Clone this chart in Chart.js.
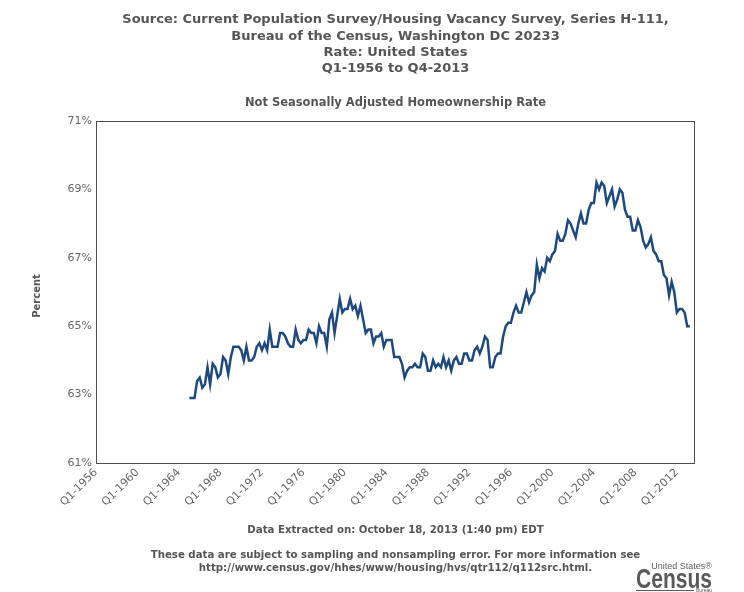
<!DOCTYPE html>
<html><head><meta charset="utf-8">
<script src="https://cdn.jsdelivr.net/npm/chart.js@4/dist/chart.umd.min.js"></script>
<style>html,body{margin:0;padding:0;background:#fff;}canvas{display:block;}</style>
</head><body>
<canvas id="c" width="744" height="592"></canvas>
<script>
const titleLines = [
  'Source: Current Population Survey/Housing Vacancy Survey, Series H-111,',
  'Bureau of the Census, Washington DC 20233',
  'Rate: United States',
  'Q1-1956 to Q4-2013'
];
const subtitleText = 'Not Seasonally Adjusted Homeownership Rate';
const yAxisTitle = 'Percent';
const footerDate = 'Data Extracted on: October 18, 2013 (1:40 pm) EDT';
const footerNote = [
  'These data are subject to sampling and nonsampling error. For more information see',
  'http://www.census.gov/hhes/www/housing/hvs/qtr112/q112src.html.'
];
const yTickSuffix = '%';
const years = [1956,1957,1958,1959,1960,1961,1962,1963,1964,1965,1966,1967,1968,1969,1970,1971,1972,1973,1974,1975,1976,1977,1978,1979,1980,1981,1982,1983,1984,1985,1986,1987,1988,1989,1990,1991,1992,1993,1994,1995,1996,1997,1998,1999,2000,2001,2002,2003,2004,2005,2006,2007,2008,2009,2010,2011,2012,2013];
const quarters = ['Q1','Q2','Q3','Q4'];
const categories = [];
years.forEach(y => quarters.forEach(q => categories.push(q + '-' + y)));
const labelledTicks = ['Q1-1956','Q1-1960','Q1-1964','Q1-1968','Q1-1972','Q1-1976','Q1-1980','Q1-1984','Q1-1988','Q1-1992','Q1-1996','Q1-2000','Q1-2004','Q1-2008','Q1-2012'];

// quarterly values, Q1..Q4 per year
const rate1956to1964 = [
  null,null,null,null, null,null,null,null, null,null,null,null,
  null,null,null,null, null,null,null,null, null,null,null,null,
  null,null,null,null, null,null,null,null, null,null,null,null
];
const rate1965to1974 = [
  62.9,62.9,62.9,63.4, 63.5,63.2,63.3,63.8, 63.3,63.9,63.8,63.5,
  63.6,64.1,64.0,63.6, 64.1,64.4,64.4,64.4, 64.3,64.0,64.4,64.0,
  64.0,64.1,64.4,64.5, 64.3,64.5,64.3,64.9, 64.4,64.4,64.4,64.8,
  64.8,64.7,64.5,64.4
];
const rate1975to1984 = [
  64.4,64.9,64.6,64.5, 64.6,64.6,64.9,64.8, 64.8,64.5,65.0,64.8,
  64.8,64.4,65.2,65.4, 64.8,65.3,65.8,65.4, 65.5,65.5,65.8,65.5,
  65.6,65.3,65.6,65.2, 64.8,64.9,64.9,64.5, 64.7,64.7,64.8,64.4,
  64.6,64.6,64.6,64.1
];
const rate1985to1994 = [
  64.1,64.1,63.9,63.5, 63.7,63.8,63.8,63.9, 63.8,63.8,64.2,64.1,
  63.7,63.7,64.0,63.8, 63.9,63.8,64.1,63.8, 64.0,63.7,64.0,64.1,
  63.9,63.9,64.2,64.2, 64.0,64.0,64.3,64.4, 64.2,64.4,64.7,64.6,
  63.8,63.8,64.1,64.2
];
const rate1995to2004 = [
  64.2,64.7,65.0,65.1, 65.1,65.4,65.6,65.4, 65.4,65.7,66.0,65.7,
  65.9,66.0,66.8,66.4, 66.7,66.6,67.0,66.9, 67.1,67.2,67.7,67.5,
  67.5,67.7,68.1,68.0, 67.8,67.6,68.0,68.3, 68.0,68.0,68.4,68.6,
  68.6,69.2,69.0,69.2
];
const rate2005to2013 = [
  69.1,68.6,68.8,69.0, 68.5,68.7,69.0,68.9, 68.4,68.2,68.2,67.8,
  67.8,68.1,67.9,67.5, 67.3,67.4,67.6,67.2, 67.1,66.9,66.9,66.5,
  66.4,65.9,66.3,66.0, 65.4,65.5,65.5,65.4, 65.0,65.0,null,null
];
const rate = [].concat(rate1956to1964, rate1965to1974, rate1975to1984, rate1985to1994, rate1995to2004, rate2005to2013);

const GRAY = '#555555';
const TICK = '#666666';
const BOLD = '"DejaVu Sans", Verdana, sans-serif';

const decorPlugin = {
  id: 'decor',
  afterDraw(chart) {
    const ctx = chart.ctx;
    const a = chart.chartArea;
    ctx.save();
    // frame
    ctx.strokeStyle = '#4d4d4d';
    ctx.lineWidth = 1;
    ctx.strokeRect(Math.round(a.left) + 0.5, Math.round(a.top) + 0.5, Math.round(a.right - a.left) - 1, Math.round(a.bottom - a.top));
    const cx = (a.left + a.right) / 2;
    ctx.fillStyle = GRAY;
    ctx.textAlign = 'center';
    ctx.textBaseline = 'middle';
    ctx.font = 'bold 13px ' + BOLD;
    const ty = [20, 37, 53, 69];
    titleLines.forEach((t, i) => ctx.fillText(t, cx, ty[i]));
    ctx.font = 'bold 11.5px ' + BOLD;
    ctx.fillText(subtitleText, cx, 103);
    ctx.font = 'bold 10.2px ' + BOLD;
    ctx.fillText(footerDate, cx, 530);
    ctx.fillText(footerNote[0], cx, 555);
    ctx.fillText(footerNote[1], cx, 568);
    // y axis title
    ctx.save();
    ctx.translate(37, 296);
    ctx.rotate(-Math.PI / 2);
    ctx.font = 'bold 10px ' + BOLD;
    ctx.fillText(yAxisTitle, 0, 0);
    ctx.restore();
    // Census logo
    ctx.textAlign = 'right';
    ctx.fillStyle = '#606060';
    ctx.font = '9px "Liberation Sans", Arial, sans-serif';
    ctx.fillText('United States\u00AE', 712, 567);
    ctx.fillStyle = '#5a5a5a';
    ctx.font = 'bold 27px "Liberation Sans", Arial, sans-serif';
    const w = ctx.measureText('Census').width;
    ctx.save();
    ctx.translate(712, 581);
    ctx.scale(76 / w, 1);
    ctx.fillText('Census', 0, 0);
    ctx.restore();
    ctx.fillRect(636, 590, 58, 1);
    ctx.font = '5px "Liberation Sans", Arial, sans-serif';
    ctx.fillText('Bureau', 712, 591);
    ctx.restore();
  }
};

new Chart(document.getElementById('c'), {
  type: 'line',
  data: {
    labels: categories,
    datasets: [{
      data: rate,
      borderColor: '#1f497d',
      borderWidth: 2.5,
      pointRadius: 0,
      pointHoverRadius: 0,
      tension: 0,
      fill: false,
      spanGaps: false
    }]
  },
  options: {
    responsive: false,
    animation: false,
    devicePixelRatio: 1,
    layout: { padding: { left: 0, right: 49, top: 121, bottom: 69 } },
    plugins: { legend: { display: false }, tooltip: { enabled: false }, title: { display: false } },
    scales: {
      x: {
        type: 'category',
        grid: { display: false, drawTicks: false },
        border: { display: false },
        ticks: {
          autoSkip: false,
          maxRotation: 45,
          minRotation: 45,
          padding: 3,
          color: TICK,
          font: { family: '"DejaVu Sans", Verdana, sans-serif', size: 11 },
          callback: function (v, i) {
            const l = categories[i];
            return labelledTicks.includes(l) ? l : null;
          }
        },
        afterFit: s => { s.height = 60; }
      },
      y: {
        min: 61,
        max: 71,
        grid: { display: false, drawTicks: false },
        border: { display: false },
        ticks: {
          stepSize: 2,
          padding: 4,
          color: TICK,
          font: { family: '"DejaVu Sans", Verdana, sans-serif', size: 11 },
          callback: v => v + yTickSuffix
        },
        afterFit: s => { s.width = 96; }
      }
    }
  },
  plugins: [decorPlugin]
});
</script>
</body></html>
